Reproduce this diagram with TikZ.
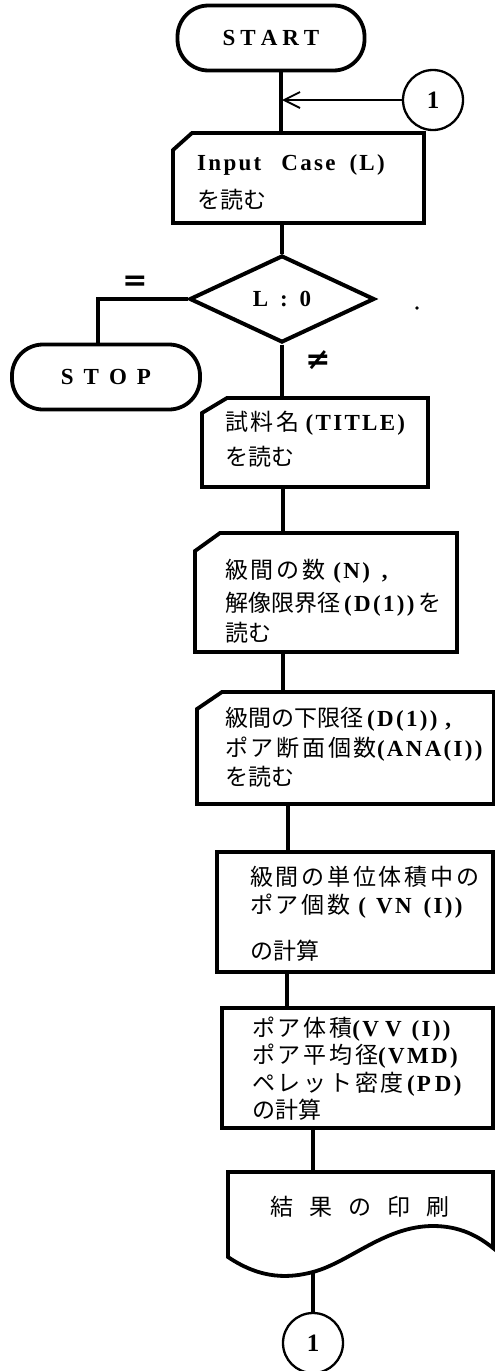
\documentclass[tikz,border=0pt]{standalone}
\usepackage{fontspec}
\setmainfont{Liberation Serif}[LetterSpace=10]
\newfontfamily\cjk{Noto Sans CJK JP}
\newfontfamily\cjkw{Noto Sans CJK JP}[LetterSpace=12]
\newfontfamily\djv{DejaVu Sans}
\usetikzlibrary{shapes.geometric, arrows.meta, calc}
\newcommand{\jpn}[1]{{\cjk\mdseries #1}}
\newcommand{\jpnw}[1]{{\cjkw\mdseries #1}}
\newcommand{\cardshape}[3]{\draw[box] ($(#1.north west)+(#2,0)$) -- (#1.north east) -- (#1.south east) -- (#1.south west) -- ($(#1.north west)+(0,#3)$) -- cycle;}
\begin{document}
\begin{tikzpicture}[x=1pt,y=-1pt,
  box/.style={line width=3.8pt, line join=miter},
  conn/.style={line width=3.2pt},
  thinl/.style={line width=1.6pt},
  frame/.style={draw=none, inner sep=0pt, outer sep=0pt},
  txt/.style={inner sep=0pt, anchor=base west, font=\bfseries\fontsize{23}{26}\selectfont},
  circ/.style={circle, draw, line width=2.3pt, minimum size=60pt, inner sep=0pt, font=\bfseries\fontsize{25}{26}\selectfont},
  term/.style={draw, line width=3.8pt, rounded corners=31pt, minimum height=65pt, inner sep=0pt, font=\bfseries\fontsize{23}{26}\selectfont},
  lbl/.style={inner sep=0pt, font=\djv\bfseries\fontsize{30}{30}\selectfont}
]
\useasboundingbox (0,0) rectangle (495,1371);
\clip (0,0) rectangle (495,1371);

% terminals and connector circles
\node[term, minimum width=187pt] (start) at (271,38) {S\hspace{5pt}T\hspace{5pt}A\hspace{5pt}R\hspace{5pt}T};
\node[circ] (c1) at (433,100) {1};
\node[term, minimum width=188pt] (stop) at (106,377) {S\hspace{10pt}T\hspace{10pt}O\hspace{10pt}P};
\node[circ] (c2) at (313,1343) {1};

% boxes
\node[frame, minimum width=251pt, minimum height=90pt] (in1) at (298.5,178) {};
\cardshape{in1}{19}{17}
\node[txt] (in1a) at (197,170) {Input\hspace{20pt}Case\hspace{14pt}(L)};
\node[txt] (in1b) at (197,208) {\jpn{を読む}};

\node[diamond, draw, line width=4pt, minimum width=185pt, minimum height=87pt, inner sep=0pt, font=\bfseries\fontsize{23}{26}\selectfont] (dec) at (282,299) {L\hspace{12pt}:\hspace{12pt}0};

\node[frame, minimum width=226pt, minimum height=89pt] (title) at (315,442.5) {};
\cardshape{title}{25}{15}
\node[txt] (ta) at (225,430) {\jpnw{試料名}\hspace{6pt}(TITLE)};
\node[txt] (tb) at (225,465) {\jpn{を読む}};

\node[frame, minimum width=262pt, minimum height=119pt] (b2) at (326,592.5) {};
\cardshape{b2}{25}{18}
\node[txt] (b2a) at (225,578) {\jpnw{級間の数}\hspace{8pt}(N)\hspace{12pt},};
\node[txt] (b2b) at (225,611) {\jpn{解像限界径}\hspace{4pt}(D(1))\hspace{4pt}\jpn{を}};
\node[txt] (b2c) at (225,641) {\jpn{読む}};

\node[frame, minimum width=297pt, minimum height=112pt] (b3) at (345.5,748) {};
\cardshape{b3}{25}{17}
\node[txt] (b3a) at (225,726) {\jpn{級間の下限径}\hspace{4pt}(D(1))\hspace{8pt},};
\node[txt] (b3b) at (225,756) {\jpnw{ポア断面個数}(ANA(I))};
\node[txt] (b3c) at (225,785) {\jpn{を読む}};

\node[frame, draw, line width=3.8pt, minimum width=276pt, minimum height=120pt] (b4) at (355,912) {};
\node[txt] (b4a) at (250,885) {\jpnw{級間の単位体積中の}};
\node[txt] (b4b) at (250,913) {\jpnw{ポア個数}\hspace{8pt}(\hspace{10pt}VN\hspace{12pt}(I))};
\node[txt] (b4c) at (250,959) {\jpn{の計算}};

\node[frame, draw, line width=3.8pt, minimum width=271pt, minimum height=120pt] (b5) at (357.5,1068) {};
\node[txt] (b5a) at (252,1036) {\jpnw{ポア体積}(V\hspace{6pt}V\hspace{10pt}(I))};
\node[txt] (b5b) at (252,1063) {\jpnw{ポア平均径}(VMD)};
\node[txt] (b5c) at (252,1091) {\jpnw{ペレット密度}\hspace{3pt}(P\hspace{4pt}D)};
\node[txt] (b5d) at (252,1118) {\jpn{の計算}};

\node[frame, minimum width=265pt, minimum height=85pt] (doc) at (360.5,1214.5) {};
\draw[box] (doc.south west) -- (doc.north west) -- (doc.north east) -- (493,1248)
  .. controls (478,1236) and (460,1226) .. (433,1226)
  .. controls (385,1226) and (350,1262) .. (313,1272)
  .. controls (290,1278) and (262,1280) .. (doc.south west) -- cycle;
\coordinate (wv) at (313,1272);
\node[txt, anchor=base] (doct) at (360,1215) {\jpn{結\hspace{16pt}果\hspace{16pt}の\hspace{16pt}印\hspace{16pt}刷}};

% labels
\node[lbl] (eq) at (135,283) {=};
\node[lbl] (ne) at (318,360) {≠};
\fill (417,308) circle (1.8pt);

% connectors
\draw[conn] (281,0 |- start.south) -- (281,0 |- in1.north);
\draw[thinl, -{Straight Barb[length=16pt,width=16pt,line width=1.8pt]}] (c1.west) -- (282,0 |- c1.west);
\draw[conn] (282,0 |- in1.south) -- (dec.north);
\draw[conn] (dec.west) -| (98,0 |- stop.north);
\draw[conn] (dec.south) -- (dec.south |- title.north);
\draw[conn] (283,0 |- title.south) -- (283,0 |- b2.north);
\draw[conn] (283,0 |- b2.south) -- (283,0 |- b3.north);
\draw[conn] (288,0 |- b3.south) -- (288,0 |- b4.north);
\draw[conn] (287,0 |- b4.south) -- (287,0 |- b5.north);
\draw[conn] (313,0 |- b5.south) -- (313,0 |- doc.north);
\draw[conn] (wv) -- (c2.north);
\end{tikzpicture}
\end{document}
